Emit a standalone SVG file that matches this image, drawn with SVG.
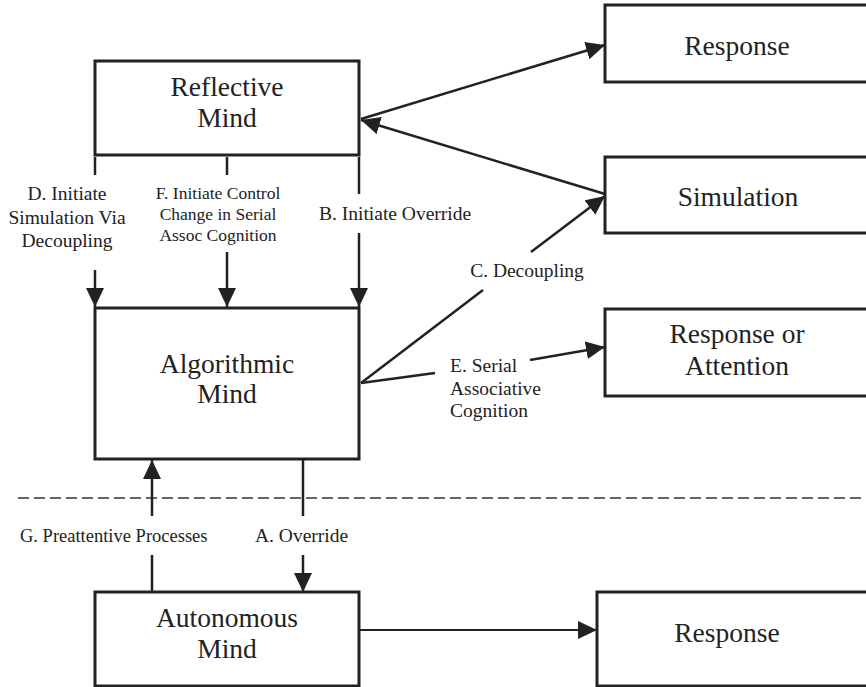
<svg xmlns="http://www.w3.org/2000/svg" width="866" height="687" viewBox="0 0 866 687">
<style>
.box{fill:#fff;stroke:#222;stroke-width:3}
.big{font-size:27.5px;text-anchor:middle}
.lbl{font-size:19.5px}
.mid{text-anchor:middle}
.ln{stroke:#222;stroke-width:2.5;fill:none}
.thin{stroke:#222;stroke-width:1.8;fill:none}
.dash{stroke:#666;stroke-width:2;stroke-dasharray:11 5;fill:none}
</style>
<defs>
<marker id="ah" markerUnits="userSpaceOnUse" markerWidth="20" markerHeight="20" viewBox="0 0 20 20" refX="19" refY="9" orient="auto">
<path d="M0,0 L19,9 L0,18 z" fill="#222"/>
</marker>
</defs>
<g font-family="Liberation Serif, Times New Roman, DejaVu Serif, serif" fill="#222">
<line class="dash" x1="18" y1="498" x2="866" y2="498"/>
<g id="connectors">
<line class="ln" x1="361" y1="119" x2="605" y2="45" marker-end="url(#ah)"/>
<line class="ln" x1="605" y1="194" x2="361" y2="120" marker-end="url(#ah)"/>
<line class="ln" x1="361" y1="383" x2="483" y2="290"/>
<line class="ln" x1="531" y1="252" x2="605" y2="196" marker-end="url(#ah)"/>
<line class="ln" x1="361" y1="383" x2="435" y2="373"/>
<line class="ln" x1="530" y1="360" x2="605" y2="347" marker-end="url(#ah)"/>
<line class="ln" x1="95" y1="157" x2="95" y2="175"/>
<line class="ln" x1="95" y1="270" x2="95" y2="307" marker-end="url(#ah)"/>
<line class="ln" x1="227" y1="157" x2="227" y2="175"/>
<line class="ln" x1="227" y1="252" x2="227" y2="307" marker-end="url(#ah)"/>
<line class="ln" x1="359" y1="157" x2="359" y2="194"/>
<line class="ln" x1="359" y1="233" x2="359" y2="307" marker-end="url(#ah)"/>
<line class="ln" x1="152" y1="592" x2="152" y2="555"/>
<line class="ln" x1="152" y1="516" x2="152" y2="460" marker-end="url(#ah)"/>
<line class="ln" x1="303" y1="459" x2="303" y2="516"/>
<line class="ln" x1="303" y1="555" x2="303" y2="592" marker-end="url(#ah)"/>
<line class="thin" x1="360" y1="630" x2="597" y2="630" marker-end="url(#ah)"/>
<text class="lbl mid" x="67" y="200">D. Initiate</text>
<text class="lbl mid" x="67" y="224">Simulation Via</text>
<text class="lbl mid" x="67" y="247">Decoupling</text>
<text class="mid" font-size="17.5" x="218" y="199">F. Initiate Control</text>
<text class="mid" font-size="17.5" x="218" y="220">Change in Serial</text>
<text class="mid" font-size="17.5" x="218" y="241">Assoc Cognition</text>
<text class="lbl" x="319" y="220">B. Initiate Override</text>
<text class="lbl mid" x="527" y="277">C. Decoupling</text>
<text class="lbl" x="450" y="372">E. Serial</text>
<text class="lbl" x="450" y="395">Associative</text>
<text class="lbl" x="450" y="417">Cognition</text>
<text font-size="18.5" x="20" y="542">G. Preattentive Processes</text>
<text class="lbl" x="255" y="542">A. Override</text>
</g>
<g id="reflective">
<rect class="box" x="95" y="61" width="264" height="94"/>
<text class="big" x="227" y="96">Reflective</text>
<text class="big" x="227" y="127">Mind</text>
</g>
<g id="algorithmic">
<rect class="box" x="95" y="308" width="264" height="151"/>
<text class="big" x="227" y="373">Algorithmic</text>
<text class="big" x="227" y="403">Mind</text>
</g>
<g id="autonomous">
<rect class="box" x="95" y="592" width="264" height="94"/>
<text class="big" x="227" y="627">Autonomous</text>
<text class="big" x="227" y="658">Mind</text>
</g>
<g id="response-top">
<rect class="box" x="605" y="5" width="265" height="77"/>
<text class="big" x="737" y="55">Response</text>
</g>
<g id="simulation">
<rect class="box" x="605" y="157" width="265" height="76"/>
<text class="big" x="738" y="206">Simulation</text>
</g>
<g id="response-attention">
<rect class="box" x="605" y="309" width="265" height="87"/>
<text class="big" x="737" y="343">Response or</text>
<text class="big" x="737" y="375">Attention</text>
</g>
<g id="response-bottom">
<rect class="box" x="597" y="592" width="275" height="94"/>
<text class="big" x="727" y="642">Response</text>
</g>
</g>
</svg>
